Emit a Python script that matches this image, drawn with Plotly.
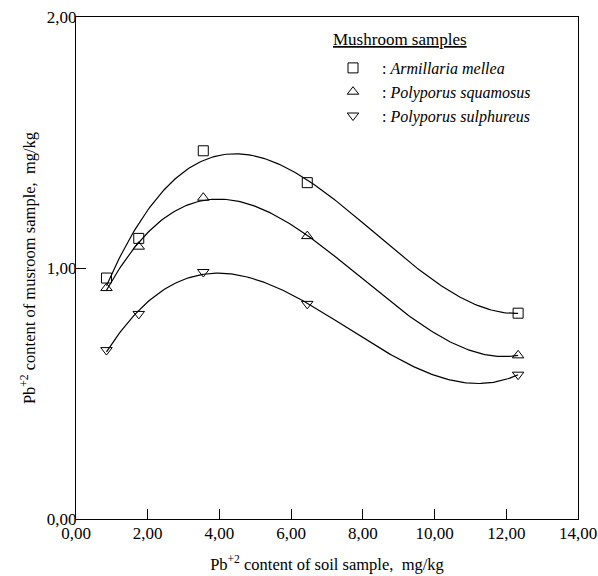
import numpy as np
import plotly.graph_objects as go

# Data
soil_pb = [0.85, 1.75, 3.55, 6.45, 12.33]
armillaria_mellea = [0.96, 1.118, 1.467, 1.34, 0.82]
polyporus_squamosus = [0.92, 1.085, 1.28, 1.127, 0.652]
polyporus_sulphureus = [0.673, 0.817, 0.984, 0.857, 0.575]

series_names = [": <i>Armillaria mellea</i>",
                ": <i>Polyporus squamosus</i>",
                ": <i>Polyporus sulphureus</i>"]
series_symbols = ["square-open", "triangle-up-open", "triangle-down-open"]

x_tick_vals = [0, 2, 4, 6, 8, 10, 12, 14]
x_tick_labels = ["0,00", "2,00", "4,00", "6,00", "8,00", "10,00", "12,00", "14,00"]
y_tick_vals = [0, 1, 2]
y_tick_labels = ["0,00", "1,00", "2,00"]

FONT = "Liberation Serif"
W, H = 598, 576
L, R, T, B = 76, 578, 17, 519
PW, PH = R - L, B - T

fig = go.Figure()
xs = np.array(soil_pb)
xfit = np.linspace(xs.min(), xs.max(), 200)
for ys, name, sym in zip([armillaria_mellea, polyporus_squamosus, polyporus_sulphureus],
                         series_names, series_symbols):
    coeffs = np.polyfit(xs, np.array(ys), 3)
    fig.add_trace(go.Scatter(x=xfit, y=np.polyval(coeffs, xfit), mode="lines",
                             line=dict(color="black", width=1.2),
                             showlegend=False, hoverinfo="skip"))
    fig.add_trace(go.Scatter(x=soil_pb, y=ys, mode="markers", name=name,
                             marker=dict(symbol=sym, size=10, color="black",
                                         line=dict(width=1, color="black"))))

axis_common = dict(showline=True, linecolor="black", linewidth=1.3, mirror=True,
                   ticks="inside", ticklen=10, tickwidth=1, tickcolor="black",
                   showgrid=False, zeroline=False, ticklabeloverflow="allow",
                   tickfont=dict(family=FONT, size=17, color="black"))

fig.update_xaxes(range=[0, 14], tickvals=x_tick_vals, ticktext=x_tick_labels,
                 title=dict(text="Pb<sup>+2</sup> content of soil sample,  mg/kg",
                            font=dict(family=FONT, size=16.5, color="black"), standoff=16),
                 ticklabelstandoff=-2, **axis_common)
fig.update_yaxes(range=[0, 2], tickvals=y_tick_vals, ticktext=y_tick_labels,
                 title=dict(text="Pb<sup>+2</sup> content of musroom sample,  mg/kg",
                            font=dict(family=FONT, size=16.5, color="black"), standoff=6),
                 ticklabelstandoff=-5, **axis_common)

fig.update_layout(
    width=W, height=H,
    margin=dict(l=L, r=W - R, t=T, b=H - B, autoexpand=False),
    paper_bgcolor="white", plot_bgcolor="white",
    font=dict(family=FONT, color="black"),
    showlegend=True,
    legend=dict(x=(324 - L) / PW, y=(B - 51) / PH, xanchor="left", yanchor="top",
                bgcolor="rgba(0,0,0,0)", borderwidth=0,
                font=dict(family=FONT, size=16, color="black"),
                itemwidth=48, tracegroupgap=0),
    annotations=[dict(text="<u>Mushroom samples</u>", xref="paper", yref="paper",
                      x=(331 - L) / PW, y=(B - 40) / PH, xanchor="left", yanchor="middle",
                      showarrow=False, font=dict(family=FONT, size=17, color="black"))],
)

fig.write_html("out.html", config={"displayModeBar": False},
               post_script="document.body.style.margin='0px'; document.body.style.overflow='hidden';")
